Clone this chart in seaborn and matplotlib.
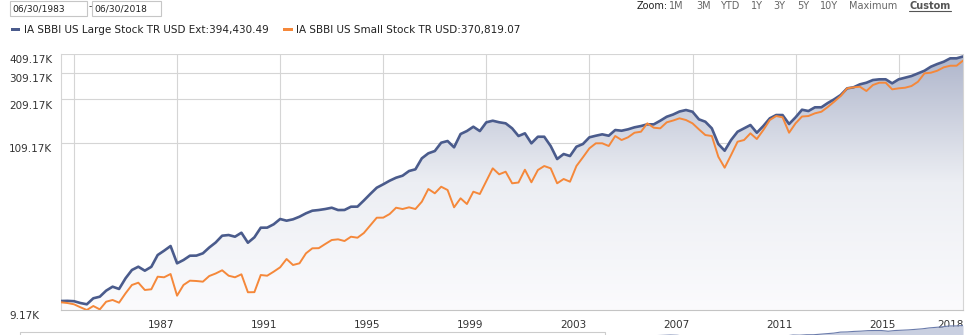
import numpy as np
import pandas as pd
import matplotlib
matplotlib.use("Agg")
import matplotlib.pyplot as plt
import matplotlib.dates as mdates
import matplotlib.transforms as mtransforms
from matplotlib.colors import LinearSegmentedColormap
from matplotlib.patches import Rectangle
from matplotlib.ticker import NullLocator
import seaborn as sns

# ---- data: growth of an investment, quarter ends, values in thousands of USD ----
try:
    quarter_ends = pd.date_range("1983-06-30", "2018-06-30", freq="QE")
except ValueError:
    quarter_ends = pd.date_range("1983-06-30", "2018-06-30", freq="Q")

large_stock_k = [
    10.48, 10.50, 10.45, 10.17, 9.98, 10.91, 11.17, 12.22, 12.96, 12.53,
    14.68, 16.60, 17.43, 16.43, 17.40, 20.73, 22.10, 23.69, 18.33, 19.25,
    20.52, 20.55, 21.26, 23.17, 24.96, 27.61, 27.89, 27.20, 28.86, 24.88,
    26.96, 31.09, 31.12, 32.70, 35.37, 34.50, 35.21, 36.60, 38.49, 40.01,
    40.42, 41.02, 41.82, 40.40, 40.45, 42.45, 42.50, 46.54, 51.26, 56.28,
    59.19, 62.44, 65.28, 67.25, 72.11, 73.93, 87.03, 93.74, 97.00, 109.71,
    112.52, 102.48, 124.82, 130.51, 139.10, 130.40, 148.49, 152.05, 148.60, 146.29,
    135.83, 121.17, 126.12, 108.74, 119.92, 119.90, 104.47, 86.14, 92.77, 90.06,
    103.39, 107.62, 118.86, 121.71, 124.26, 121.70, 132.45, 131.09, 133.83, 137.87,
    140.54, 144.13, 144.10, 152.05, 161.34, 166.69, 174.28, 178.21, 173.77, 155.23,
    149.81, 135.83, 107.62, 97.43, 114.19, 129.16, 135.83, 142.65, 127.25, 140.54,
    157.55, 165.46, 165.40, 144.78, 159.91, 179.01, 175.58, 185.50, 185.60, 197.71,
    208.85, 222.62, 245.87, 249.57, 260.91, 267.19, 278.10, 280.99, 281.10, 264.82,
    280.99, 287.75, 295.09, 307.16, 319.26, 338.77, 352.61, 364.87, 383.70, 383.80,
    394.43049,
]

small_stock_k = [
    10.28, 10.17, 9.98, 9.55, 9.17, 9.73, 9.25, 10.37, 10.64, 10.22,
    11.75, 13.29, 13.75, 12.34, 12.47, 15.03, 14.90, 15.64, 11.34, 13.29,
    14.17, 14.10, 13.96, 15.18, 15.76, 16.53, 15.25, 14.90, 15.57, 11.93,
    11.95, 15.41, 15.25, 16.19, 17.28, 19.54, 17.88, 18.33, 21.26, 22.90,
    22.95, 24.41, 25.90, 26.17, 25.52, 27.20, 26.80, 28.73, 32.13, 36.06,
    36.10, 38.09, 41.82, 41.02, 42.07, 41.02, 45.72, 55.20, 51.79, 57.12,
    54.39, 42.07, 48.09, 44.18, 53.04, 51.26, 62.16, 75.04, 68.65, 71.36,
    60.07, 60.79, 73.50, 60.98, 73.17, 77.64, 75.04, 60.07, 64.04, 61.52,
    77.64, 88.34, 100.96, 108.74, 108.80, 104.47, 121.17, 114.19, 118.86, 127.25,
    129.16, 146.29, 137.05, 135.83, 148.49, 152.50, 157.55, 153.63, 146.29, 133.83,
    122.98, 121.17, 89.13, 75.71, 91.41, 111.36, 114.19, 126.12, 115.90, 132.45,
    153.63, 163.02, 159.91, 127.25, 146.29, 161.82, 163.02, 169.68, 173.77, 186.32,
    201.57, 219.33, 245.87, 249.57, 251.80, 236.24, 258.22, 267.19, 267.30, 242.25,
    245.87, 248.08, 254.41, 271.19, 307.16, 309.91, 319.26, 335.77, 343.84, 343.90,
    370.81907,
]

series_names = ["IA SBBI US Large Stock TR USD Ext", "IA SBBI US Small Stock TR USD"]
y_ticks_k = [9.17, 109.17, 209.17, 309.17, 409.17]
y_tick_labels = ["9.17K", "109.17K", "209.17K", "309.17K", "409.17K"]
grid_years = [1984, 1988, 1992, 1996, 2000, 2004, 2008, 2012, 2016]
x_label_dates = ["1987-05-20", "1991-05-20", "1995-05-20", "1999-05-20", "2003-05-20",
                 "2007-05-20", "2011-05-20", "2015-05-20", "2018-01-01"]
x_labels = ["1987", "1991", "1995", "1999", "2003", "2007", "2011", "2015", "2018"]
zoom_buttons = ["1M", "3M", "YTD", "1Y", "3Y", "5Y", "10Y", "Maximum", "Custom"]
start_label, end_label = "06/30/1983", "06/30/2018"

# ---- style ----
BLUE = "#4a5b8c"
ORANGE = "#f5883a"
GRID = "#d5d5d5"
TEXT = "#333333"

sns.set_theme(style="white")
plt.rcParams["font.family"] = ["DejaVu Sans"]

FIG_W, FIG_H = 973, 335


def fx(px):
    return px / FIG_W


def fy(py):
    return 1 - py / FIG_H


fig = plt.figure(figsize=(FIG_W / 100, FIG_H / 100), dpi=100, facecolor="white")
ax = fig.add_axes([fx(61), fy(310), (963 - 61) / FIG_W, (310 - 54) / FIG_H])
ax.set_facecolor("white")

df = pd.DataFrame({"date": quarter_ends, "large": large_stock_k, "small": small_stock_k})

ax.set_yscale("log")
x0, x1 = quarter_ends[0], quarter_ends[-1]
ax.set_xlim(x0, x1)
ax.set_ylim(y_ticks_k[0], y_ticks_k[-1])
ax.set_autoscale_on(False)

# gradient area under the large-stock line
area = ax.fill_between(df["date"], df["large"], y_ticks_k[0], facecolor="none", edgecolor="none")
shade = LinearSegmentedColormap.from_list("shade", ["#fbfbfd", "#eceef3", "#aeb5cb"])
gradient = np.linspace(0, 1, 256).reshape(-1, 1)
img = ax.imshow(gradient, cmap=shade, aspect="auto", origin="lower", extent=(0, 1, 0, 1),
                transform=ax.transAxes, interpolation="bilinear", zorder=1)
img.set_clip_path(area.get_paths()[0], ax.transData)

sns.lineplot(data=df, x="date", y="large", ax=ax, color=BLUE, linewidth=1.9, zorder=4)
sns.lineplot(data=df, x="date", y="small", ax=ax, color=ORANGE, linewidth=1.4, zorder=5)

ax.set_xlim(x0, x1)
ax.set_ylim(y_ticks_k[0], y_ticks_k[-1])
ax.set_xlabel("")
ax.set_ylabel("")

# grid
ax.set_yticks(y_ticks_k)
ax.yaxis.set_minor_locator(NullLocator())
ax.set_xticks([pd.Timestamp(f"{y}-01-01") for y in grid_years])
ax.grid(True, color=GRID, linewidth=0.8)
ax.tick_params(length=0, labelleft=False, labelbottom=False)
for side in ("left", "right"):
    ax.spines[side].set_color(GRID)
    ax.spines[side].set_linewidth(0.8)
ax.spines["top"].set_visible(False)
ax.spines["bottom"].set_color("#c4c4c4")
ax.spines["bottom"].set_linewidth(0.8)

# y labels, left aligned beneath their grid lines
ytrans = mtransforms.blended_transform_factory(fig.transFigure, ax.transData) + \
    mtransforms.ScaledTranslation(0, -9.3 / 100, fig.dpi_scale_trans)
for v, lab in zip(y_ticks_k, y_tick_labels):
    ax.text(fx(9), v, lab, transform=ytrans, ha="left", va="baseline",
            fontsize=7.5, color=TEXT, clip_on=False)

# x labels
xtrans = mtransforms.blended_transform_factory(ax.transData, ax.transAxes) + \
    mtransforms.ScaledTranslation(0, -18.3 / 100, fig.dpi_scale_trans)
for d, lab in zip(x_label_dates, x_labels):
    ax.text(mdates.date2num(pd.Timestamp(d)), 0, lab, transform=xtrans, ha="center",
            va="baseline", fontsize=7.5, color=TEXT, clip_on=False)

# date range boxes
for left, right, txt in [(10, 87, start_label), (92, 161, end_label)]:
    fig.patches.append(Rectangle((fx(left), fy(16)), (right - left) / FIG_W, 15.5 / FIG_H,
                                 transform=fig.transFigure, facecolor="white",
                                 edgecolor="#c6c6c6", linewidth=0.8))
    fig.text(fx(left + 2), fy(12), txt, fontsize=6.6, color="#222222", va="baseline", ha="left")
fig.text(fx(88.5), fy(9), "-", fontsize=6.6, color="#222222", va="baseline", ha="left")

# zoom selector
fig.text(fx(637), fy(9), "Zoom:", fontsize=7, color="#222222", va="baseline", ha="left")
zoom_x = [669, 696, 720, 751, 773, 797, 820, 849, 909]
for xpos, lab in zip(zoom_x, zoom_buttons):
    if lab == "Custom":
        fig.text(fx(xpos), fy(9), lab, fontsize=7, color="#555555", va="baseline",
                 ha="left", fontweight="bold")
        fig.lines.append(plt.Line2D([fx(909), fx(951)], [fy(10.6), fy(10.6)],
                                    transform=fig.transFigure, color="#555555", linewidth=0.8))
    else:
        fig.text(fx(xpos), fy(9), lab, fontsize=7, color="#666666", va="baseline", ha="left")

# legend
legend_items = [(10.7, 23.5, BLUE, f"{series_names[0]}:{large_stock_k[-1] * 1000:,.2f}"),
                (283, 296, ORANGE, f"{series_names[1]}:{small_stock_k[-1] * 1000:,.2f}")]
for mx, tx, col, txt in legend_items:
    fig.patches.append(Rectangle((fx(mx), fy(31)), 9.5 / FIG_W, 2.8 / FIG_H,
                                 transform=fig.transFigure, facecolor=col, edgecolor="none"))
    fig.text(fx(tx), fy(33), txt, fontsize=7.5, color="#222222", va="baseline", ha="left")

# navigator strip along the bottom edge
nav = fig.add_axes([fx(10), fy(343), (963 - 10) / FIG_W, (343 - 323) / FIG_H])
nav.fill_between(df["date"], df["large"], 0, color="#c9cfe0", linewidth=0)
sns.lineplot(data=df, x="date", y="large", ax=nav, color="#6a7bab", linewidth=0.8)
nav.set_xlim(x0, x1)
nav.set_ylim(0, 450)
nav.axis("off")
fig.patches.append(Rectangle((fx(20), fy(345)), (605 - 20) / FIG_W, 13 / FIG_H,
                             transform=fig.transFigure, facecolor="none",
                             edgecolor="#cccccc", linewidth=0.8))

fig.savefig("out.png", dpi=100, facecolor="white")
